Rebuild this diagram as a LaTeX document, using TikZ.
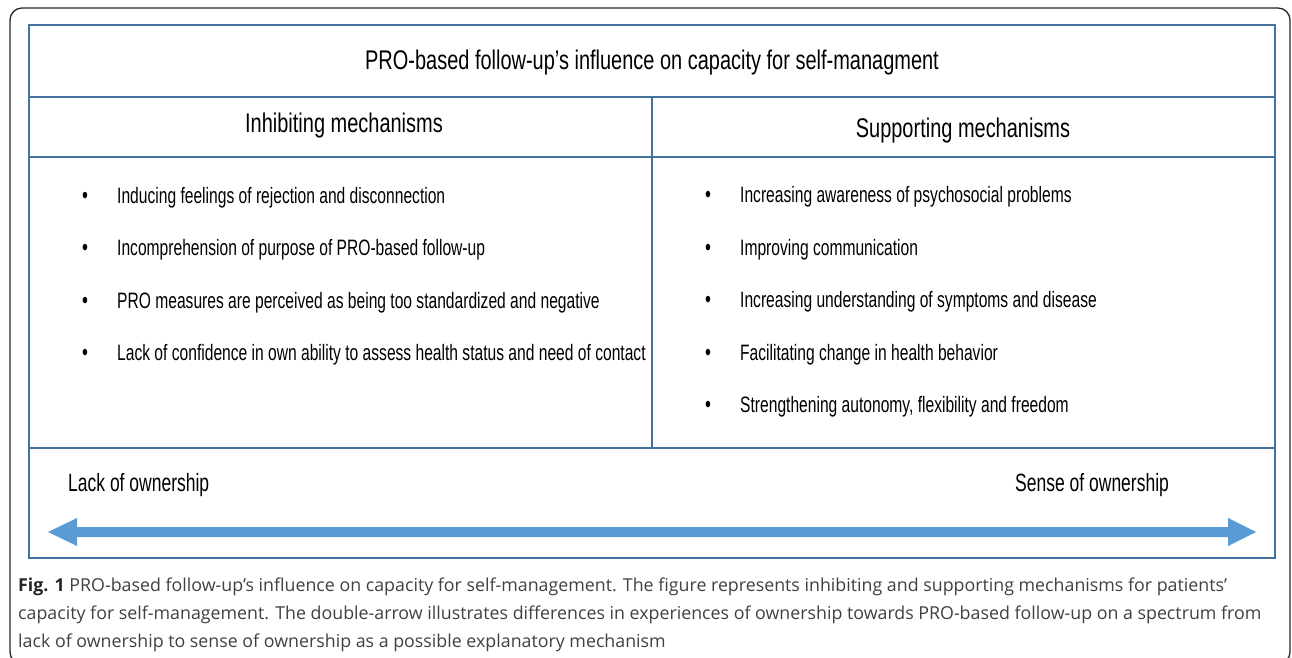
\documentclass[tikz,border=0pt]{standalone}
\usepackage{fontspec}
\setmainfont{Open Sans}
\newfontfamily\agency[FakeStretch=0.70]{Liberation Sans}
\newfontfamily\agencyh[FakeStretch=0.74]{Liberation Sans}
\usetikzlibrary{calc}
\definecolor{tblue}{HTML}{41719C}
\definecolor{abue}{HTML}{5B9BD5}
\definecolor{capgray}{HTML}{404040}
\begin{document}
\begin{tikzpicture}[x=1pt,y=-1pt,
  lbl/.style={inner sep=0pt, anchor=base west, font=\agency\fontsize{22.3}{22.3}\selectfont},
  own/.style={inner sep=0pt, anchor=base west, font=\agency\fontsize{25}{25}\selectfont},
  head/.style={inner sep=0pt, anchor=base, font=\agencyh\fontsize{27}{27}\selectfont},
  bul/.style={inner sep=0pt, anchor=base, font=\agency\fontsize{24}{24}\selectfont},
  captxt/.style={inner sep=0pt, anchor=base west, font=\fontsize{17.8}{17.8}\selectfont, text=capgray},
  tline/.style={draw=tblue, line width=1.6pt}]
\useasboundingbox (0,0) rectangle (1292,658);
% outer frame
\draw[line width=1.3pt, rounded corners=12pt, color=black!85] (10,8) rectangle (1290,664);
% table
\draw[tline] (29,25) rectangle (1275,558);
\draw[tline] (29,97) -- (1275,97);
\draw[tline] (29,157) -- (1275,157);
\draw[tline] (29,448) -- (1275,448);
\draw[tline] (652,97) -- (652,448);
% title and headings
\node[head] (title) at (652,69.5) {PRO-based follow-up’s influence on capacity for self-managment};
\node[head] (inh) at (344,132) {Inhibiting mechanisms};
\node[head] (sup) at (963,137) {Supporting mechanisms};
% left items
\foreach \t [count=\i] in {Inducing feelings of rejection and disconnection,
  Incomprehension of purpose of PRO-based follow-up,
  PRO measures are perceived as being too standardized and negative,
  Lack of confidence in own ability to assess health status and need of contact}{
  \node[bul] (lb\i) at (85,{203+52.5*(\i-1)}) {•};
  \node[lbl] (lt\i) at (117,{203+52.5*(\i-1)}) {\t};
}
% right items
\foreach \t [count=\i] in {Increasing awareness of psychosocial problems,
  Improving communication,
  Increasing understanding of symptoms and disease,
  Facilitating change in health behavior,
  {Strengthening autonomy, flexibility and freedom}}{
  \node[bul] (rb\i) at (708,{202.5+52.5*(\i-1)}) {•};
  \node[lbl] (rt\i) at (740,{202.5+52.5*(\i-1)}) {\t};
}
% ownership labels
\node[own] (lack) at (68,491) {Lack of ownership};
\node[own] (sense) at (1015,491) {Sense of ownership};
% double arrow
\coordinate (arL) at (48,532);
\coordinate (arR) at (1256,532);
\fill[abue] (arL) -- ($(arL)+(29,-14)$) -- ($(arL)+(29,-5)$) -- ($(arR)+(-28,-5)$) -- ($(arR)+(-28,-14)$) -- (arR)
  -- ($(arR)+(-28,14)$) -- ($(arR)+(-28,5)$) -- ($(arL)+(29,5)$) -- ($(arL)+(29,14)$) -- cycle;
% caption
\node[captxt] (c1) at (18,591) {\textbf{\color{black!85}Fig. 1} PRO-based follow-up’s influence on capacity for self-management. The figure represents inhibiting and supporting mechanisms for patients’};
\node[captxt] (c2) at (18,619) {capacity for self-management. The double-arrow illustrates differences in experiences of ownership towards PRO-based follow-up on a spectrum from};
\node[captxt] (c3) at (18,647) {lack of ownership to sense of ownership as a possible explanatory mechanism};
\end{tikzpicture}
\end{document}
